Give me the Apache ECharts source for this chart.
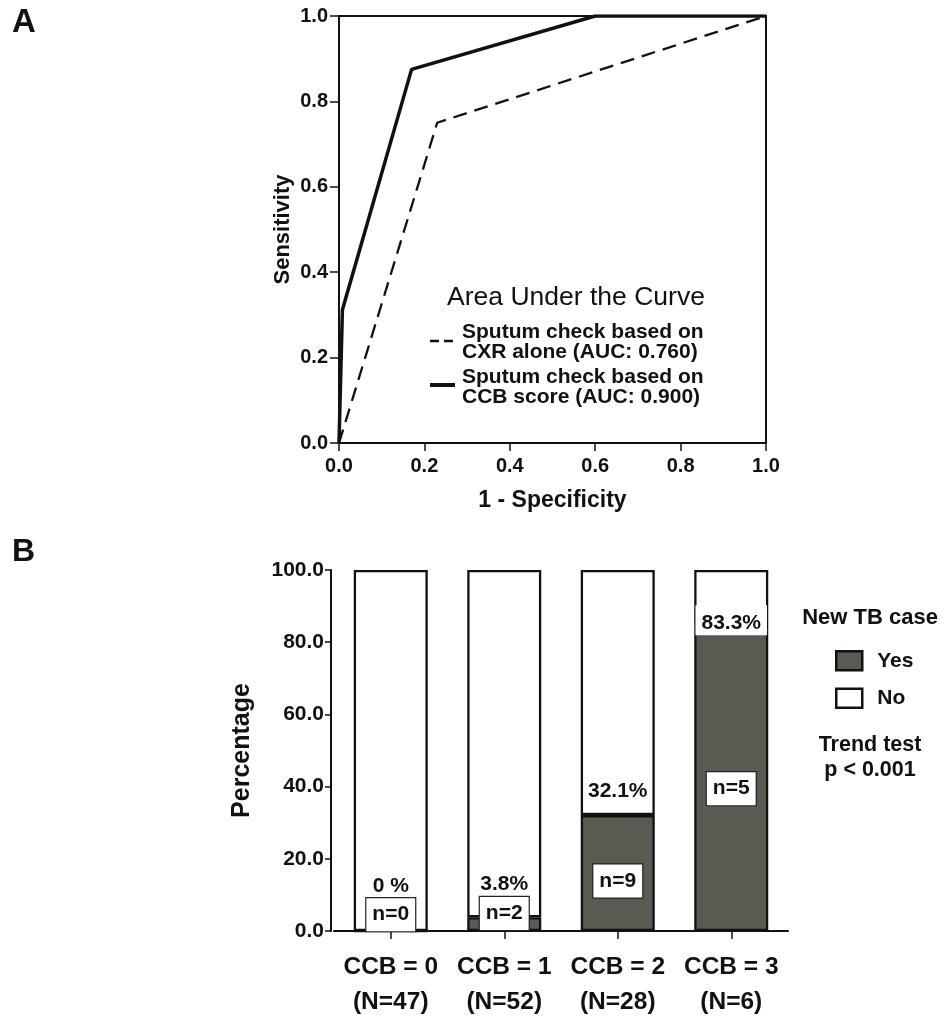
<!DOCTYPE html>
<html>
<head>
<meta charset="utf-8">
<script src="https://cdn.jsdelivr.net/npm/echarts@6/dist/echarts.min.js"></script>
<style>html,body{margin:0;padding:0;background:#fff}#c{width:946px;height:1016px}</style>
</head>
<body>
<div id="c"></div>
<script>
// ---- Panel A data (ROC curves) ----
const cxrFpr = [0, 0.23, 1];
const cxrTpr = [0, 0.75, 1];
const ccbFpr = [0, 0.008, 0.17, 0.6, 1];
const ccbTpr = [0, 0.312, 0.875, 1, 1];
const rocTicks = [0, 0.2, 0.4, 0.6, 0.8, 1.0];

// ---- Panel B data (stacked percentage bars) ----
const ccbLevels = ['CCB = 0', 'CCB = 1', 'CCB = 2', 'CCB = 3'];
const groupN = [47, 52, 28, 6];
const yesPct = [0, 3.8, 32.1, 83.3];
const noPct = [100, 96.2, 67.9, 16.7];
const nYes = [0, 2, 9, 5];
const pctLabels = ['0 %', '3.8%', '32.1%', '83.3%'];
const pctTicks = [0, 20, 40, 60, 80, 100];

const FONT = '"Liberation Sans", Arial, sans-serif';
const INK = '#111';
const categories = ccbLevels.map((c, i) => c + '\n(N=' + groupN[i] + ')');

// per-bar label placement (styles, not data)
const pctDist = [35, 23, 14, -5];
const nPos = ['insideBottom', 'insideBottom', 'inside', 'inside'];

const chart = echarts.init(document.getElementById('c'), null, {renderer: 'canvas'});

const option = {
  backgroundColor: '#fff',
  animation: false,
  textStyle: {fontFamily: FONT},
  grid: [
    {left: 339, top: 16, width: 427, height: 427, show: true, borderColor: INK, borderWidth: 2, backgroundColor: 'transparent', outerBoundsMode: 'none', containLabel: false},
    {left: 334, top: 570, width: 454, height: 361, outerBoundsMode: 'none', containLabel: false}
  ],
  xAxis: [
    {
      gridIndex: 0, type: 'value', min: 0, max: 1, interval: 0.2,
      name: '1 - Specificity', nameLocation: 'middle', nameGap: 46,
      nameTextStyle: {fontSize: 23, fontWeight: 'bold', color: INK, fontFamily: FONT},
      axisLine: {show: true, lineStyle: {color: INK, width: 2}},
      axisTick: {show: true, length: 8, lineStyle: {color: INK, width: 1.5}},
      axisLabel: {fontSize: 20, fontWeight: 'bold', color: INK, margin: 13, fontFamily: FONT,
        formatter: v => v.toFixed(1)},
      splitLine: {show: false}
    },
    {
      gridIndex: 1, type: 'category', data: categories,
      axisLine: {show: true, lineStyle: {color: INK, width: 2}},
      axisTick: {show: true, alignWithLabel: true, length: 8, lineStyle: {color: INK, width: 1.5}},
      axisLabel: {fontSize: 24.5, fontWeight: 'bold', color: INK, margin: 19, lineHeight: 35, fontFamily: FONT, interval: 0},
      splitLine: {show: false}
    }
  ],
  yAxis: [
    {
      gridIndex: 0, type: 'value', min: 0, max: 1, interval: 0.2,
      name: 'Sensitivity', nameLocation: 'middle', nameGap: 45, nameRotate: 90,
      nameTextStyle: {fontSize: 22, fontWeight: 'bold', color: INK, fontFamily: FONT},
      axisLine: {show: true, lineStyle: {color: INK, width: 2}},
      axisTick: {show: true, length: 9, lineStyle: {color: INK, width: 1.5}},
      axisLabel: {fontSize: 20, fontWeight: 'bold', color: INK, margin: 11, fontFamily: FONT,
        formatter: v => v.toFixed(1)},
      splitLine: {show: false}
    },
    {
      gridIndex: 1, type: 'value', min: 0, max: 100, interval: 20, offset: 3,
      name: 'Percentage', nameLocation: 'middle', nameGap: 76, nameRotate: 90,
      nameTextStyle: {fontSize: 25, fontWeight: 'bold', color: INK, fontFamily: FONT},
      axisLine: {show: true, lineStyle: {color: INK, width: 2}},
      axisTick: {show: true, length: 6, lineStyle: {color: INK, width: 1.5}},
      axisLabel: {fontSize: 21, fontWeight: 'bold', color: INK, margin: 7, fontFamily: FONT,
        formatter: v => v.toFixed(1)},
      splitLine: {show: false}
    }
  ],
  legend: {
    data: ['Yes', 'No'], orient: 'vertical', left: 835, top: 650, padding: 0,
    icon: 'rect', itemWidth: 26, itemHeight: 19, itemGap: 16,
    itemStyle: {borderColor: INK, borderWidth: 2.5},
    textStyle: {fontSize: 21, fontWeight: 'bold', color: INK, lineHeight: 20, fontFamily: FONT, padding: [0, 0, 0, 10]},
    selectedMode: false
  },
  series: [
    {
      name: 'CXR', type: 'line', xAxisIndex: 0, yAxisIndex: 0,
      data: cxrFpr.map((x, i) => [x, cxrTpr[i]]),
      showSymbol: false, symbol: 'none',
      lineStyle: {color: INK, width: 2.3, type: [14, 8]}
    },
    {
      name: 'CCB', type: 'line', xAxisIndex: 0, yAxisIndex: 0,
      data: ccbFpr.map((x, i) => [x, ccbTpr[i]]),
      showSymbol: false, symbol: 'none',
      lineStyle: {color: INK, width: 3.5}
    },
    {
      name: 'Yes', type: 'bar', xAxisIndex: 1, yAxisIndex: 1, stack: 'tb', barWidth: 74,
      itemStyle: {color: '#5a5a52', borderColor: INK, borderWidth: 2.3},
      data: yesPct.map((v, i) => ({
        value: v,
        label: {
          show: true, position: nPos[i], distance: 1, offset: nPos[i] === 'inside' ? [0, 8] : [0, 0],
          formatter: 'n=' + nYes[i],
          fontSize: 21, fontWeight: 'bold', color: INK, fontFamily: FONT, lineHeight: 21,
          backgroundColor: '#fff', borderColor: '#222', borderWidth: 1.2, padding: [6, 6, 6, 6]
        }
      }))
    },
    {
      name: 'No', type: 'bar', xAxisIndex: 1, yAxisIndex: 1, stack: 'tb', barWidth: 74,
      itemStyle: {color: '#fff', borderColor: INK, borderWidth: 2.3},
      data: noPct.map((v, i) => ({
        value: v,
        label: {
          show: true, position: 'insideBottom', distance: pctDist[i],
          formatter: pctLabels[i],
          fontSize: 21, fontWeight: 'bold', color: INK, fontFamily: FONT, lineHeight: 20,
          backgroundColor: i === 3 ? '#fff' : 'transparent', padding: i === 3 ? [8, 6, 2, 6] : 0
        }
      }))
    }
  ],
  graphic: [
    {type: 'text', left: 12, top: 6, style: {text: 'A', font: 'bold 33px ' + FONT, fill: INK}},
    {type: 'text', left: 12, top: 536, style: {text: 'B', font: 'bold 32px ' + FONT, fill: INK}},
    // Panel A legend
    {type: 'text', x: 576, y: 298, style: {text: 'Area Under the Curve', font: '26.5px ' + FONT, fill: INK, align: 'center', verticalAlign: 'middle'}},
    {type: 'line', shape: {x1: 430, y1: 341, x2: 455, y2: 341}, style: {stroke: INK, lineWidth: 2.5, lineDash: [9, 5]}},
    {type: 'text', x: 462, y: 342, style: {text: 'Sputum check based on\nCXR alone (AUC: 0.760)', font: 'bold 21px ' + FONT, lineHeight: 20, fill: INK, verticalAlign: 'middle'}},
    {type: 'line', shape: {x1: 430, y1: 385, x2: 455, y2: 385}, style: {stroke: INK, lineWidth: 4}},
    {type: 'text', x: 462, y: 387, style: {text: 'Sputum check based on\nCCB score (AUC: 0.900)', font: 'bold 21px ' + FONT, lineHeight: 20, fill: INK, verticalAlign: 'middle'}},
    // Panel B legend title & trend test
    {type: 'text', x: 870, y: 618, style: {text: 'New TB case', font: 'bold 22px ' + FONT, fill: INK, align: 'center', verticalAlign: 'middle'}},
    {type: 'text', x: 870, y: 758, style: {text: 'Trend test\np < 0.001', font: 'bold 21.5px ' + FONT, lineHeight: 25, fill: INK, align: 'center', verticalAlign: 'middle'}}
  ]
};
chart.setOption(option);
</script>
</body>
</html>
